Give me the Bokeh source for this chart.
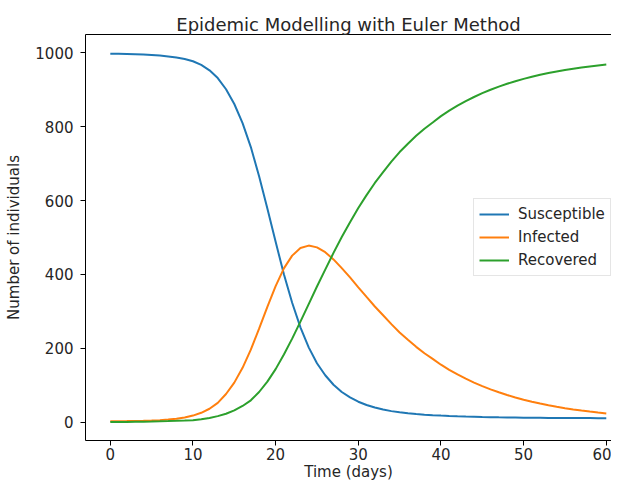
from bokeh.plotting import figure
from bokeh.models import Range1d, FixedTicker, LinearAxis, Legend, LegendItem, ColumnDataSource
from bokeh.embed import file_html
from bokeh.resources import INLINE

# ---- data ----
days = list(range(61))
susceptible = [998.0, 997.6, 997.1, 996.4, 995.6, 994.4, 992.9, 990.7, 987.8, 983.7,
               977.5, 967.5, 953.0, 932.0, 901.6, 861.7, 809.7, 745.0, 665.7, 578.4,
               488.3, 400.6, 323.1, 256.5, 202.4, 159.4, 126.8, 101.1, 81.5, 66.7,
               55.1, 46.2, 39.2, 33.9, 29.6, 26.5, 24.0, 21.8, 20.0, 18.6,
               17.4, 16.3, 15.5, 14.8, 14.2, 13.6, 13.1, 12.7, 12.4, 12.1,
               11.8, 11.6, 11.4, 11.2, 11.1, 11.0, 10.9, 10.8, 10.7, 10.6, 10.5]
infected = [2.0, 2.2, 2.5, 2.9, 3.4, 4.2, 5.2, 6.8, 9.0, 12.3,
            17.5, 25.0, 36.0, 52.0, 75.9, 106.8, 146.8, 196.1, 252.9, 312.1,
            368.3, 416.4, 450.9, 471.4, 478.1, 473.3, 460.2, 440.6, 417.1, 391.8,
            365.1, 338.9, 313.0, 289.2, 265.2, 242.7, 222.9, 203.7, 186.4, 171.2,
            155.3, 141.6, 129.0, 117.5, 107.0, 97.4, 88.6, 80.6, 73.3, 66.7,
            60.6, 55.1, 50.1, 45.5, 41.4, 37.6, 34.2, 31.1, 28.3, 25.7, 23.3]
recovered = [0.0, 0.2, 0.4, 0.7, 1.0, 1.4, 1.9, 2.5, 3.2, 4.0,
             5.0, 7.5, 11.0, 16.0, 22.5, 31.5, 43.5, 58.9, 81.4, 109.5,
             143.4, 183.0, 226.0, 272.1, 319.5, 367.3, 413.0, 458.3, 501.4, 541.5,
             579.8, 614.9, 647.8, 676.9, 705.4, 731.5, 754.1, 775.6, 794.8, 811.5,
             828.8, 843.7, 857.2, 869.5, 880.7, 891.0, 900.3, 908.7, 916.4, 923.4,
             929.8, 935.6, 940.8, 945.6, 949.9, 953.9, 957.4, 960.7, 963.6, 966.3, 968.8]
series_names = ["Susceptible", "Infected", "Recovered"]
series_colors = ["#1f77b4", "#ff7f0e", "#2ca02c"]
x_ticks = [0, 10, 20, 30, 40, 50, 60]
y_ticks = [0, 200, 400, 600, 800, 1000]

FONT = "DejaVu Sans"
TXT = "#262626"

src = ColumnDataSource(dict(t=days, S=susceptible, I=infected, R=recovered))

p = figure(width=611, height=483,
           x_range=Range1d(-3, 60.63), y_range=Range1d(-50, 1050),
           output_backend="svg", toolbar_location=None,
           min_border_left=85, min_border_right=0, min_border_top=34, min_border_bottom=0,
           title="Epidemic Modelling with Euler Method")
p.outline_line_color = None
p.grid.visible = False
p.background_fill_color = "white"
p.border_fill_color = "white"

p.title.align = "center"
p.title.text_font = FONT
p.title.text_font_size = "18px"
p.title.text_font_style = "normal"
p.title.text_color = TXT
p.title.standoff = 0
p.title.offset = 0

for ax in (p.xaxis[0], p.yaxis[0]):
    ax.major_label_text_font = FONT
    ax.major_label_text_font_size = "15px"
    ax.major_label_text_color = TXT
    ax.axis_label_text_font = FONT
    ax.axis_label_text_font_size = "15px"
    ax.axis_label_text_font_style = "normal"
    ax.axis_label_text_color = TXT
    ax.axis_line_color = "black"
    ax.axis_line_width = 1
    ax.major_tick_line_color = "black"
    ax.major_tick_in = 0
    ax.major_tick_out = 5
    ax.minor_tick_line_color = None

p.xaxis[0].ticker = FixedTicker(ticks=x_ticks)
p.yaxis[0].ticker = FixedTicker(ticks=y_ticks)
p.xaxis[0].axis_label = "Time (days)"
p.yaxis[0].axis_label = "Number of individuals"
p.xaxis[0].major_label_standoff = 2
p.xaxis[0].axis_label_standoff = 0
p.yaxis[0].major_label_standoff = 7
p.yaxis[0].axis_label_standoff = 9

top = LinearAxis(ticker=FixedTicker(ticks=[]), major_tick_line_color=None,
                 minor_tick_line_color=None, major_label_text_font_size="0px",
                 axis_line_color="black", axis_line_width=1,
                 major_tick_out=0, major_tick_in=0, major_label_standoff=0)
p.add_layout(top, "above")

items = []
for key, name, col in zip(["S", "I", "R"], series_names, series_colors):
    r = p.line("t", key, source=src, line_color=col, line_width=2)
    items.append(LegendItem(label=name, renderers=[r]))

legend = Legend(items=items, location=(388, 164),
                label_text_font=FONT, label_text_font_size="15px", label_text_color=TXT,
                glyph_width=30, glyph_height=20, label_height=20, label_standoff=9,
                spacing=3, padding=5, margin=0,
                border_line_color="#cccccc", border_line_width=1,
                background_fill_color="white", background_fill_alpha=0.8)
p.add_layout(legend)

open("out.html", "w").write(file_html(p, INLINE))
